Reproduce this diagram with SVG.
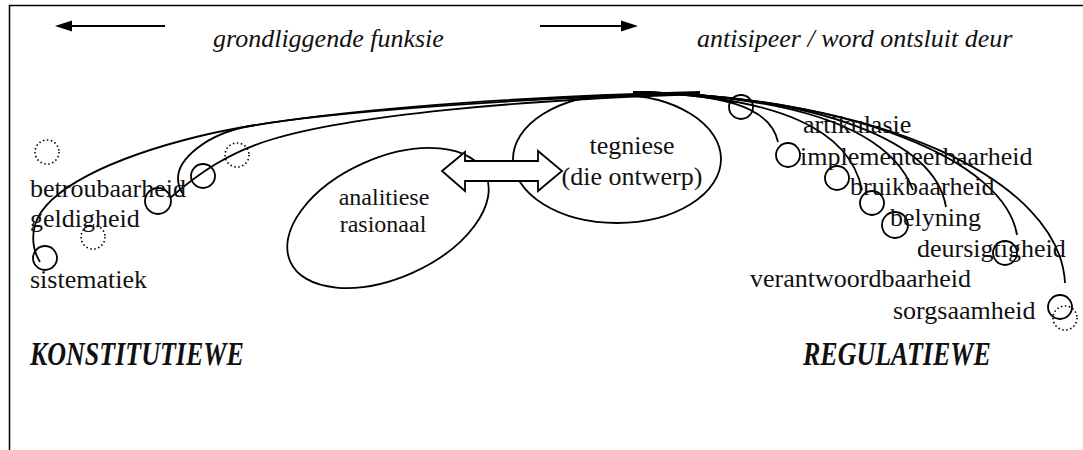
<svg xmlns="http://www.w3.org/2000/svg" width="1083" height="450" viewBox="0 0 1083 450">
<style>
.t{font-family:"Liberation Serif","Times New Roman",serif;font-size:26px;fill:#111}
.it{font-style:italic}
.bi{font-style:italic;font-weight:bold}
.c{fill:none;stroke:#000;stroke-width:1.8}
.dc{fill:none;stroke:#000;stroke-width:1.6;stroke-dasharray:1.5 2.5}
.e{fill:none;stroke:#000;stroke-width:1.8}
.ln{fill:none;stroke:#000;stroke-width:1.8}
</style>
<rect width="1083" height="450" fill="#fff"/>
<g id="frame">
<path d="M9.5 450 V5.5 H1083" fill="none" stroke="#000" stroke-width="1.5"/>
</g>
<g id="header">
<line x1="165" y1="26" x2="68" y2="26" class="ln"/>
<polygon points="55,26 72,20.5 72,31.5" fill="#000"/>
<line x1="540" y1="26" x2="625" y2="26" class="ln"/>
<polygon points="638,26 621,20.5 621,31.5" fill="#000"/>
<text class="t it" x="213" y="47">grondliggende funksie</text>
<text class="t it" x="697" y="47">antisipeer / word ontsluit deur</text>
</g>
<g id="connectors">
<path class="c" d="M700 92 C500 97,300 112,200 136 C110 158,45 190,35 225 C31 240,34 252,40 262"/>
<path class="c" d="M700 93 C520 98,330 112,250 126 C205 134,178 160,178 178 C178 185,180 190,183 194"/>
<path class="c" d="M700 94 C520 100,350 115,270 140 C230 152,200 172,170 198"/>
<path class="c" d="M633 93 C690 93,720 97,735 103"/>
<path class="c" d="M633 92 C720 94,770 105,778 142"/>
<path class="c" d="M633 92 C780 96,850 130,862 190"/>
<path class="c" d="M633 92 C800 96,890 130,913 190"/>
<path class="c" d="M633 92 C820 96,935 140,946 207"/>
<path class="c" d="M633 92 C850 96,1005 160,1017 235"/>
<path class="c" d="M633 92 C880 96,1060 180,1065 283"/>
</g>
<g id="markers-left">
<circle class="c" cx="45" cy="258" r="12"/>
<circle class="c" cx="158" cy="201" r="13"/>
<circle class="c" cx="203" cy="176" r="12"/>
<circle class="dc" cx="47" cy="152" r="12"/>
<circle class="dc" cx="237" cy="155" r="12"/>
<circle class="dc" cx="93" cy="237" r="12"/>
</g>
<g id="markers-right">
<circle class="c" cx="741" cy="107" r="12"/>
<circle class="c" cx="788" cy="155" r="12"/>
<circle class="c" cx="837" cy="178" r="12"/>
<circle class="c" cx="872" cy="203" r="12"/>
<circle class="c" cx="895" cy="225" r="13"/>
<circle class="c" cx="1005" cy="253" r="12"/>
<circle class="c" cx="1060" cy="307" r="12"/>
<circle class="dc" cx="1065" cy="318" r="12"/>
</g>
<g id="labels-left">
<text class="t" x="30" y="197">betroubaarheid</text>
<text class="t" x="30" y="227">geldigheid</text>
<text class="t" x="30" y="288">sistematiek</text>
</g>
<g id="labels-right">
<text class="t" x="803" y="133">artikulasie</text>
<text class="t" x="800" y="165">implementeerbaarheid</text>
<text class="t" x="850" y="195">bruikbaarheid</text>
<text class="t" x="890" y="226">belyning</text>
<text class="t" x="917" y="257">deursigtigheid</text>
<text class="t" x="750" y="287">verantwoordbaarheid</text>
<text class="t" x="893" y="319">sorgsaamheid</text>
</g>
<g id="node-analitiese">
<ellipse class="e" cx="388" cy="218" rx="107" ry="60" transform="rotate(-24 388 218)"/>
<text class="t" x="384" y="205" text-anchor="middle" style="font-size:24px">analitiese</text>
<text class="t" x="383" y="232" text-anchor="middle" style="font-size:24px">rasionaal</text>
</g>
<g id="node-tegniese">
<ellipse class="e" cx="617" cy="159" rx="104" ry="64"/>
<text class="t" x="632" y="154" text-anchor="middle">tegniese</text>
<text class="t" x="632" y="185" text-anchor="middle">(die ontwerp)</text>
</g>
<g id="double-arrow">
<polygon points="442,171 465,152 465,161 538,161 538,151 562,171 538,191 538,181 465,181 465,191" fill="#fff" stroke="#000" stroke-width="1.8" stroke-linejoin="miter"/>
</g>
<g id="footer">
<text class="t bi" transform="translate(30 365) scale(1 1.3)">KONSTITUTIEWE</text>
<text class="t bi" transform="translate(803 365) scale(1 1.3)">REGULATIEWE</text>
</g>
</svg>
